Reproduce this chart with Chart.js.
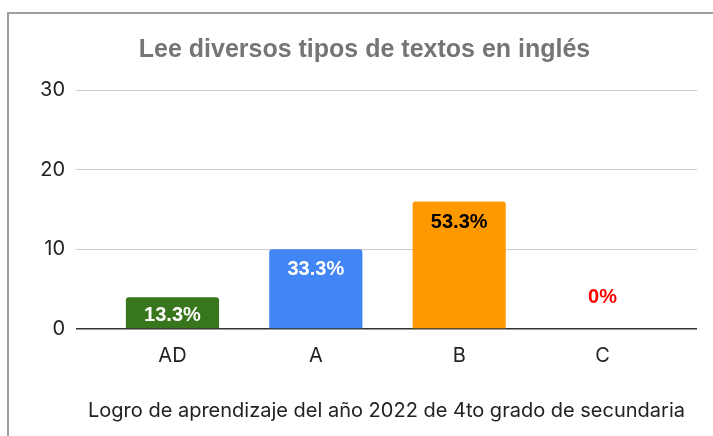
<!DOCTYPE html>
<html>
<head>
<meta charset="utf-8">
<script src="https://cdn.jsdelivr.net/npm/chart.js@4"></script>
<style>
  html, body { margin:0; padding:0; background:#fff; overflow:hidden; }
  #wrap { position:relative; width:713px; height:436px; }
  #frame { position:absolute; left:7px; top:12px; width:800px; height:600px; border:2px solid #9e9e9e; }
  canvas { position:absolute; left:0; top:0; }
</style>
</head>
<body>
<div id="wrap">
  <div id="frame"></div>
  <canvas id="c" width="713" height="436"></canvas>
</div>
<script>
const titleText = 'Lee diversos tipos de textos en inglés';
const xTitle = 'Logro de aprendizaje del año 2022 de 4to grado de secundaria';
const categories = ['AD', 'A', 'B', 'C'];
const values = [4, 10, 16, 0];
const percentLabels = ['13.3%', '33.3%', '53.3%', '0%'];
const barColors = ['#38761d', '#4285f4', '#ff9900', '#cccccc'];
const labelColors = ['#ffffff', '#ffffff', '#000000', '#ff0000'];
const yTicks = [0, 10, 20, 30];

const FONT = '"Liberation Sans", Arial, sans-serif';
const FONT2 = 'Inter, "Liberation Sans", Arial, sans-serif';

const barLabels = {
  id: 'barLabels',
  afterDatasetsDraw(chart) {
    const ctx = chart.ctx;
    const meta = chart.getDatasetMeta(0);
    meta.data.forEach((bar, i) => {
      ctx.save();
      ctx.font = 'bold 20px ' + FONT;
      ctx.fillStyle = labelColors[i];
      ctx.textAlign = 'center';
      ctx.textBaseline = 'alphabetic';
      const y = values[i] > 0 ? Math.min(bar.y + 26, bar.base - 7) : bar.base - 26;
      ctx.fillText(percentLabels[i], bar.x, y);
      ctx.restore();
    });
  }
};

new Chart(document.getElementById('c'), {
  type: 'bar',
  data: {
    datasets: [{
      data: values.map((v, i) => ({ x: i, y: v })),
      backgroundColor: barColors,
      borderRadius: 3,
      borderSkipped: 'start',
      barPercentage: 0.65,
      categoryPercentage: 1
    }]
  },
  options: {
    responsive: false,
    animation: false,
    devicePixelRatio: 1,
    layout: { padding: { left: 16, right: 0, top: 0, bottom: 0 } },
    plugins: {
      legend: { display: false },
      tooltip: { enabled: false },
      title: {
        display: true,
        text: titleText,
        color: '#757575',
        font: { family: FONT, size: 25, weight: 'bold', lineHeight: 1.2 },
        padding: { top: 35, bottom: 25 }
      }
    },
    scales: {
      x: {
        type: 'linear',
        offset: false,
        min: -0.673,
        max: 3.659,
        afterBuildTicks: (scale) => { scale.ticks = categories.map((_, i) => ({ value: i })); },
        afterFit: (scale) => { scale.height = 107; },
        grid: { display: false, offset: false },
        border: { display: false },
        ticks: {
          callback: (v) => categories[v] !== undefined ? categories[v] : '',
          color: '#222222',
          font: { family: FONT2, size: 20 },
          padding: 7,
          maxRotation: 0,
          autoSkip: false
        },
        title: {
          display: true,
          text: xTitle,
          color: '#222222',
          font: { family: FONT2, size: 20 },
          padding: { top: 0, bottom: 13 }
        }
      },
      y: {
        min: 0,
        max: 30,
        afterBuildTicks: (scale) => { scale.ticks = yTicks.map(v => ({ value: v })); },
        afterFit: (scale) => { scale.width = 60; },
        border: { display: false },
        grid: {
          drawTicks: false,
          color: (ctx) => ctx.tick && ctx.tick.value === 0 ? '#333333' : '#cccccc',
          lineWidth: (ctx) => ctx.tick && ctx.tick.value === 0 ? 1.5 : 1
        },
        ticks: {
          color: '#222222',
          font: { family: FONT2, size: 20 },
          padding: 11
        }
      },
      yRight: {
        position: 'right',
        afterFit: (scale) => { scale.width = 16; },
        grid: { display: false },
        border: { display: false },
        ticks: { display: false }
      }
    }
  },
  plugins: [barLabels]
});
</script>
</body>
</html>
